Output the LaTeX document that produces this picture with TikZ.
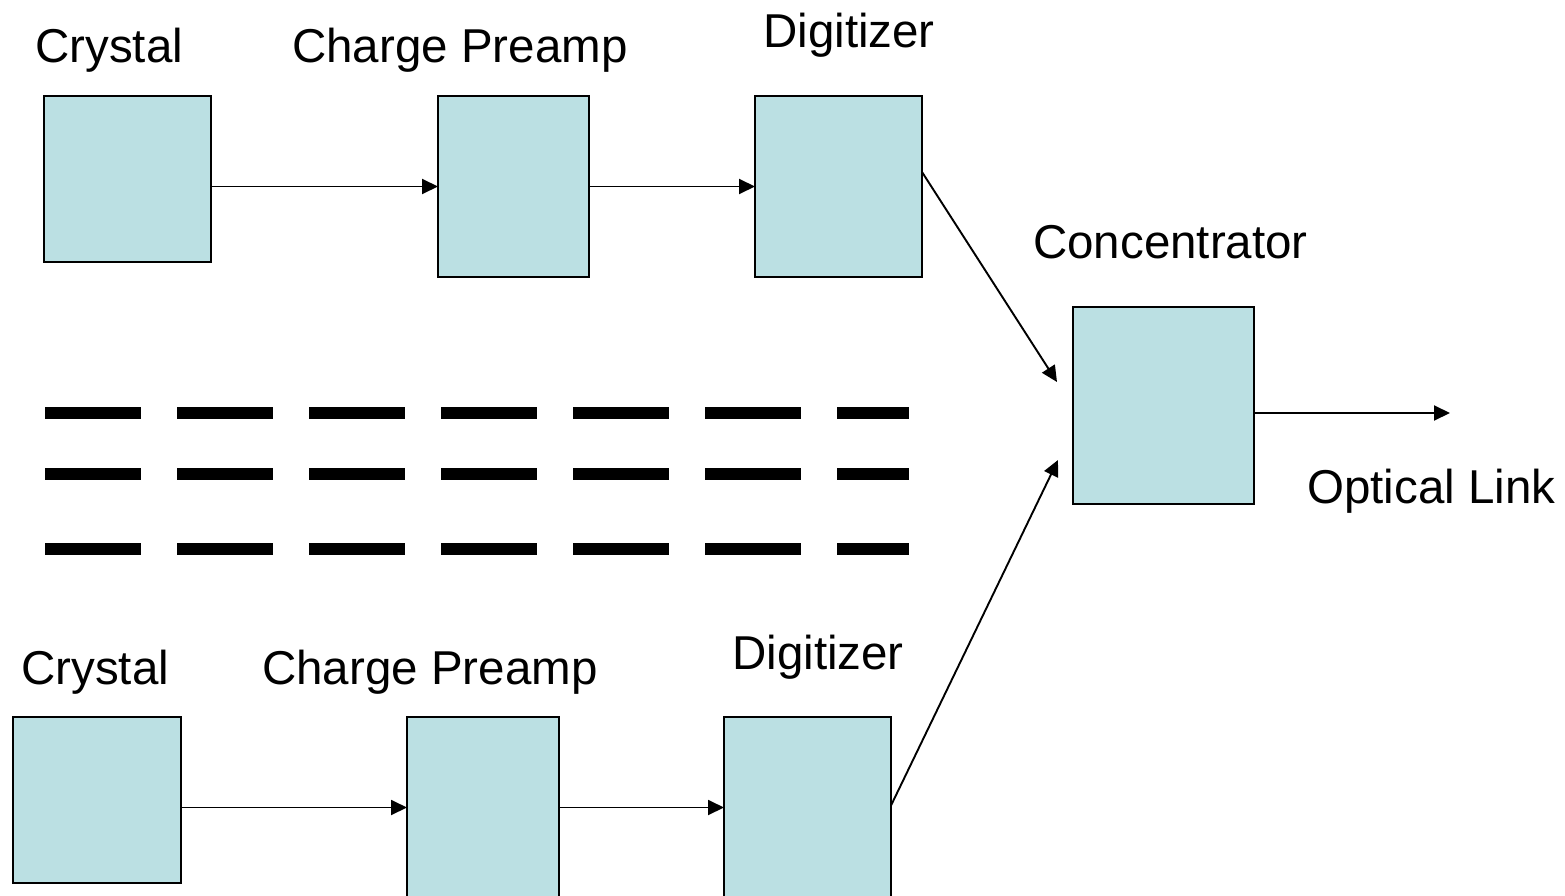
\documentclass[tikz,border=0pt]{standalone}
\usepackage{fontspec}
\setmainfont{Liberation Sans}
\usetikzlibrary{arrows.meta}
\definecolor{boxfill}{RGB}{187,224,227}
\tikzset{
  blockbox/.style={draw=black, line width=2pt, fill=boxfill, anchor=north west, inner sep=0pt, outer sep=0pt},
  lbl/.style={anchor=base west, inner sep=0pt, font=\fontsize{47.5}{56}\selectfont},
  arr/.style={line width=1.9pt, -{Triangle[length=16pt,width=15pt]}},
  bar/.style={line width=12pt, dash pattern=on 96pt off 36pt}
}
\begin{document}
\begin{tikzpicture}[x=1pt,y=-1pt]
\useasboundingbox (0,0) rectangle (1565,896);
% top row
\node[blockbox, minimum width=167pt, minimum height=166pt] (crys1) at (44,96) {};
\node[blockbox, minimum width=151pt, minimum height=181pt] (pre1) at (438,96) {};
\node[blockbox, minimum width=167pt, minimum height=181pt] (dig1) at (755,96) {};
% concentrator
\node[blockbox, minimum width=181pt, minimum height=197pt] (conc) at (1073,307) {};
% bottom row
\node[blockbox, minimum width=168pt, minimum height=166pt] (crys2) at (13,717) {};
\node[blockbox, minimum width=152pt, minimum height=181pt] (pre2) at (407,717) {};
\node[blockbox, minimum width=167pt, minimum height=181pt] (dig2) at (724,717) {};
% labels
\node[lbl] (lc1) at (35,63) {Crystal};
\node[lbl] (lp1) at (292,63) {Charge Preamp};
\node[lbl] (ld1) at (763,48) {Digitizer};
\node[lbl] (lcc) at (1033,258) {Concentrator};
\node[lbl] (lol) at (1307,503) {Optical Link};
\node[lbl] (lc2) at (21,684) {Crystal};
\node[lbl] (lp2) at (262,684) {Charge Preamp};
\node[lbl] (ld2) at (732,669) {Digitizer};
% free ends
\coordinate (tipA) at (1057,382);
\coordinate (tipB) at (1058,460);
\coordinate (tipC) at (1450,413);
% connectors
\draw[arr] (crys1.east |- pre1.west) -- (pre1.west);
\draw[arr] (pre1.east) -- (dig1.west);
\draw[arr] (crys2.east |- pre2.west) -- (pre2.west);
\draw[arr] (pre2.east) -- (dig2.west);
\draw[arr] ([yshift=14.5pt]dig1.east) -- (tipA);
\draw[arr] ([yshift=2pt]dig2.east) -- (tipB);
\draw[arr] ([yshift=-7.5pt]conc.east) -- (tipC);
% dashed separator bars
\draw[bar] (45,413) -- (909,413);
\draw[bar] (45,474) -- (909,474);
\draw[bar] (45,549) -- (909,549);
\end{tikzpicture}
\end{document}
